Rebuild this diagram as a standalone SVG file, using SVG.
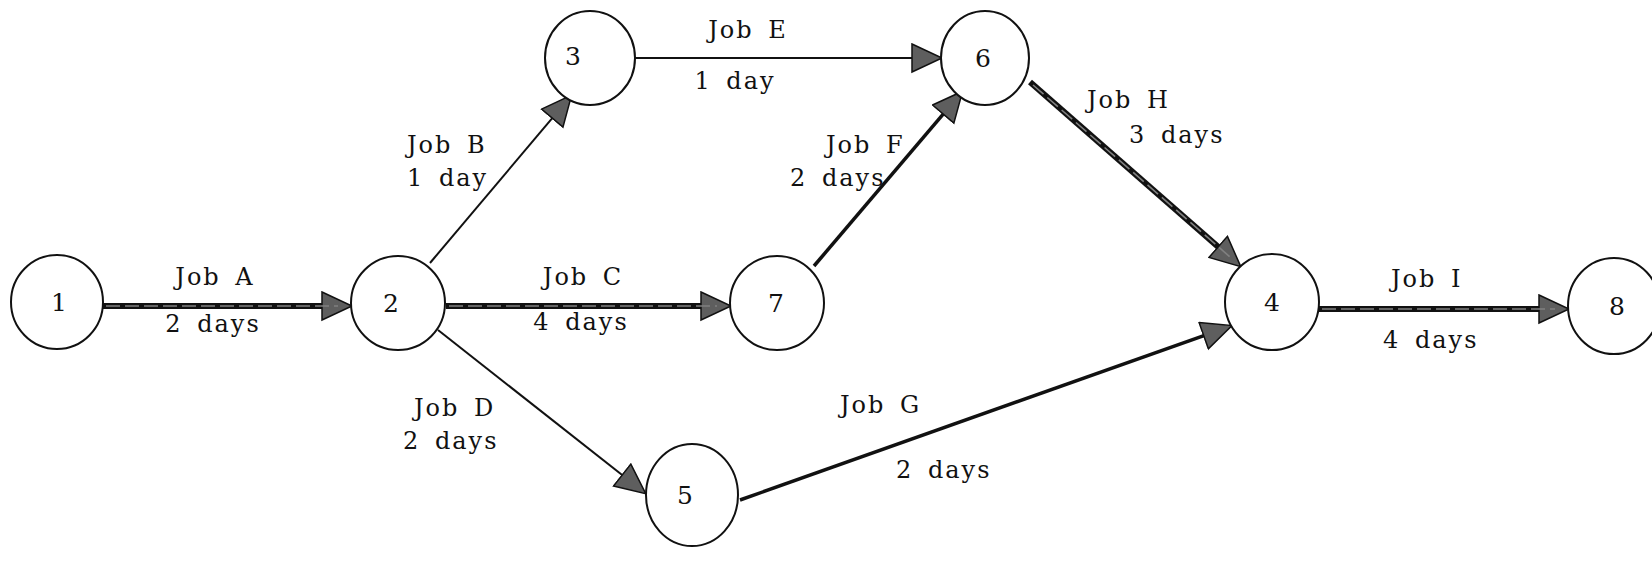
<svg xmlns="http://www.w3.org/2000/svg" width="1652" height="564" viewBox="0 0 1652 564">
<style>
.node ellipse{fill:#fff;stroke:#111;stroke-width:2}
.num{font-family:"DejaVu Serif","Liberation Serif",serif;font-size:25px;fill:#111;text-anchor:middle}
.lbl{font-family:"DejaVu Serif","Liberation Serif",serif;font-size:24px;fill:#111;letter-spacing:2px;word-spacing:5px}
.thin{stroke:#111;stroke-width:2;fill:none;marker-end:url(#ah)}
.med{stroke:#111;stroke-width:3.5;fill:none;marker-end:url(#ah)}
.thick{stroke:#111;stroke-width:6;fill:none;marker-end:url(#ah)}
.core{stroke:#808080;stroke-width:1.6;fill:none;stroke-dasharray:14 5}
</style>
<defs>
<marker id="ah" markerUnits="userSpaceOnUse" markerWidth="34" markerHeight="32" refX="20" refY="15" orient="auto">
<path d="M1,1 L31,15 L1,29 Z" fill="#5e5e5e" stroke="#111" stroke-width="1.5"/>
</marker>
</defs>
<rect width="1652" height="564" fill="#fff"/>
<g id="connectors">
<line id="jobA" class="thick" x1="103" y1="306" x2="341" y2="306"/>
<line class="core" x1="106" y1="306" x2="338" y2="306"/>
<line id="jobB" class="thin" x1="430" y1="263" x2="564.5" y2="103.6"/>
<line id="jobC" class="thick" x1="446" y1="306" x2="720" y2="306"/>
<line class="core" x1="449" y1="306" x2="717" y2="306"/>
<line id="jobD" class="thin" x1="438" y1="330" x2="637.1" y2="486.8"/>
<line id="jobE" class="thin" x1="635" y1="58" x2="931" y2="58"/>
<line id="jobF" class="med" x1="814" y1="266" x2="955.5" y2="99.6"/>
<line id="jobH" class="thick" x1="1030" y1="82" x2="1232.5" y2="259.4"/>
<line class="core" x1="1033" y1="85" x2="1230" y2="257"/>
<line id="jobG" class="med" x1="740" y1="500" x2="1221.6" y2="329.3"/>
<line id="jobI" class="thick" x1="1319" y1="309" x2="1558" y2="309"/>
<line class="core" x1="1322" y1="309" x2="1555" y2="309"/>
</g>
<g id="n1" class="node"><ellipse cx="57" cy="302" rx="46" ry="47"/><text class="num" x="59" y="311">1</text></g>
<g id="n2" class="node"><ellipse cx="398" cy="303" rx="47" ry="47"/><text class="num" x="391" y="312">2</text></g>
<g id="n3" class="node"><ellipse cx="590" cy="58" rx="45" ry="47"/><text class="num" x="573" y="65">3</text></g>
<g id="n6" class="node"><ellipse cx="985" cy="58" rx="44" ry="47"/><text class="num" x="983" y="67">6</text></g>
<g id="n7" class="node"><ellipse cx="777" cy="303" rx="47" ry="47"/><text class="num" x="776" y="312">7</text></g>
<g id="n4" class="node"><ellipse cx="1272" cy="302" rx="47" ry="48"/><text class="num" x="1272" y="311">4</text></g>
<g id="n8" class="node"><ellipse cx="1614" cy="306" rx="46" ry="48"/><text class="num" x="1617" y="315">8</text></g>
<g id="n5" class="node"><ellipse cx="692" cy="495" rx="46" ry="51"/><text class="num" x="685" y="504">5</text></g>
<g id="labels">
<text class="lbl" x="215" y="285" text-anchor="middle">Job A</text>
<text class="lbl" x="213" y="332" text-anchor="middle">2 days</text>
<text class="lbl" x="407" y="153">Job B</text>
<text class="lbl" x="407" y="186">1 day</text>
<text class="lbl" x="583" y="285" text-anchor="middle">Job C</text>
<text class="lbl" x="581" y="330" text-anchor="middle">4 days</text>
<text class="lbl" x="414" y="416">Job D</text>
<text class="lbl" x="403" y="449">2 days</text>
<text class="lbl" x="748" y="38" text-anchor="middle">Job E</text>
<text class="lbl" x="735" y="89" text-anchor="middle">1 day</text>
<text class="lbl" x="826" y="153">Job F</text>
<text class="lbl" x="790" y="186">2 days</text>
<text class="lbl" x="1087" y="108">Job H</text>
<text class="lbl" x="1129" y="143">3 days</text>
<text class="lbl" x="840" y="413">Job G</text>
<text class="lbl" x="896" y="478">2 days</text>
<text class="lbl" x="1391" y="287">Job I</text>
<text class="lbl" x="1383" y="348">4 days</text>
</g>
</svg>
